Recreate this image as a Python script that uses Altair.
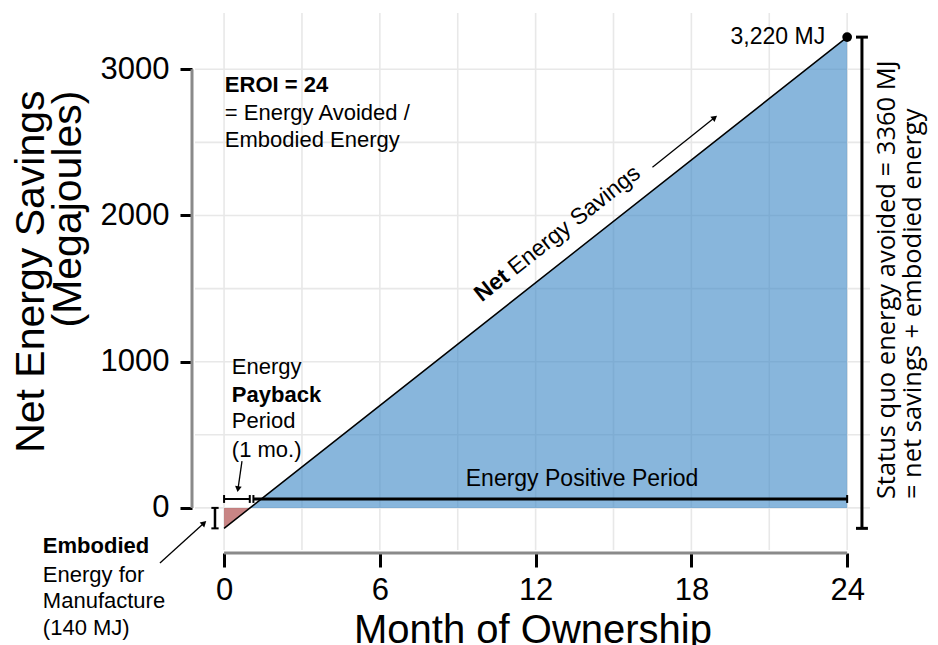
import altair as alt
import pandas as pd

# ---------------- data ----------------
months = [0, 1, 24]                 # month of ownership
net_savings = [-140, 0, 3220]       # net energy savings (MJ)
x_ticks = [0, 6, 12, 18, 24]
y_ticks = [0, 1000, 2000, 3000]
grid_months = [0, 3, 6, 9, 12, 15, 18, 21, 24]
grid_mj = [0, 500, 1000, 1500, 2000, 2500, 3000]
embodied_mj = 140
status_quo_mj = 3360
payback_month = 1
eroi = status_quo_mj // embodied_mj

# ---------------- layout / style ----------------
W, H = 675, 537
FONT = "Liberation Sans"
BLUE = "#3f89c6"
RED = "#a63a3a"
GRID = "#e8e8e8"
SPINE = "#8a8a8a"

xs = alt.Scale(domain=[-1.12, 24.88], nice=False, zero=False)
ys = alt.Scale(domain=[-288, 3385], nice=False, zero=False)

x_axis = alt.Axis(values=x_ticks, format="d", title="Month of Ownership", domain=False, grid=False,
                  tickColor="black", tickWidth=3, tickSize=14, offset=3,
                  labelFont=FONT, labelFontSize=31, labelColor="black", labelPadding=8,
                  titleFont=FONT, titleFontSize=40, titleFontWeight="normal", titleColor="black",
                  titlePadding=5)
y_axis = alt.Axis(values=y_ticks, format="d", title=["Net Energy Savings", "(Megajoules)"],
                  domain=False, grid=False, tickColor="black", tickWidth=3, tickSize=12, offset=3,
                  labelFont=FONT, labelFontSize=31, labelColor="black", labelPadding=11,
                  titleFont=FONT, titleFontSize=41, titleFontWeight="normal", titleColor="black",
                  titleAngle=270, titleAlign="right", titleBaseline="alphabetic",
                  titleLineHeight=37, titleX=-149, titleY=77)


def ex(field="x"):
    return alt.X(f"{field}:Q", scale=xs, axis=x_axis)


def ey(field="y"):
    return alt.Y(f"{field}:Q", scale=ys, axis=y_axis)


layers = []

# grid lines
layers.append(alt.Chart(pd.DataFrame({"x": grid_months})).mark_rule(color=GRID, strokeWidth=1.6)
              .encode(x=ex()))
layers.append(alt.Chart(pd.DataFrame({"y": grid_mj})).mark_rule(color=GRID, strokeWidth=1.6)
              .encode(y=ey()))

# range-frame spines
layers.append(alt.Chart(pd.DataFrame({"x": [x_ticks[0]], "x2": [x_ticks[-1]]}))
              .mark_rule(color=SPINE, strokeWidth=3)
              .encode(x=ex(), x2="x2:Q", y=alt.value(H + 3)))
layers.append(alt.Chart(pd.DataFrame({"y": [y_ticks[0]], "y2": [y_ticks[-1]]}))
              .mark_rule(color=SPINE, strokeWidth=3)
              .encode(y=ey(), y2="y2:Q", x=alt.value(-3)))

# areas
df_red = pd.DataFrame({"x": months[:2], "y": net_savings[:2], "zero": [0, 0]})
df_blue = pd.DataFrame({"x": months[1:], "y": net_savings[1:], "zero": [0, 0]})
layers.append(alt.Chart(df_red).mark_area(color=RED, opacity=0.62)
              .encode(x=ex(), y=ey(), y2="zero:Q"))
layers.append(alt.Chart(df_blue).mark_area(color=BLUE, opacity=0.62)
              .encode(x=ex(), y=ey(), y2="zero:Q"))

# main line
df_line = pd.DataFrame({"x": months, "y": net_savings})
layers.append(alt.Chart(df_line).mark_line(color="black", strokeWidth=1.5)
              .encode(x=ex(), y=ey()))

# end point + label
df_end = pd.DataFrame({"x": [months[-1]], "y": [net_savings[-1]],
                       "t": [f"{net_savings[-1]:,} MJ"]})
layers.append(alt.Chart(df_end).mark_point(filled=True, color="black", size=95, opacity=1)
              .encode(x=ex(), y=ey()))
layers.append(alt.Chart(df_end).mark_text(font=FONT, fontSize=23, align="right", baseline="middle",
                                          dx=-22, color="black")
              .encode(x=ex(), y=ey(), text="t:N"))

# generic segments (data coordinates)
seg_rows = [
    # status-quo bracket on the right
    (24.57, -embodied_mj, 24.57, net_savings[-1], 3),
    (24.34, net_savings[-1], 24.80, net_savings[-1], 3),
    (24.34, -embodied_mj, 24.80, -embodied_mj, 3),
    # payback period bracket
    (0, 61, 0.99, 61, 2),
    (0, 34, 0, 88, 2),
    (0.99, 34, 0.99, 88, 2),
    # energy positive period
    (1.13, 61, 24, 61, 3),
    (1.13, 34, 1.13, 88, 2),
    (24, 34, 24, 88, 2),
    # embodied "I" marker
    (-0.35, 0, -0.35, -embodied_mj, 2.5),
    (-0.49, 0, -0.21, 0, 2),
    (-0.49, -embodied_mj, -0.21, -embodied_mj, 2),
]
for lw in sorted(set(r[4] for r in seg_rows)):
    sub = [r for r in seg_rows if r[4] == lw]
    df = pd.DataFrame({"x": [r[0] for r in sub], "y": [r[1] for r in sub],
                       "x2": [r[2] for r in sub], "y2": [r[3] for r in sub]})
    layers.append(alt.Chart(df).mark_rule(color="black", strokeWidth=lw)
                  .encode(x=ex(), y=ey(), x2="x2:Q", y2="y2:Q"))

# arrows: shaft + head
arrows = pd.DataFrame({
    "x": [16.5, 0.69, -2.47],
    "y": [2330, 320, -377],
    "x2": [18.9, 0.535, -0.77],
    "y2": [2670, 129, -103],
    "ang": [51.7, 188.7, 47.7],
})
layers.append(alt.Chart(arrows).mark_rule(color="black", strokeWidth=1.3)
              .encode(x=ex(), y=ey(), x2="x2:Q", y2="y2:Q"))
layers.append(alt.Chart(arrows).mark_point(shape="triangle-up", filled=True, color="black",
                                           size=45, opacity=1)
              .encode(x=ex("x2"), y=ey("y2"), angle=alt.Angle("ang:Q", scale=None)))

# text annotations
normal_txt = pd.DataFrame([
    ("= Energy Avoided /", 0.03, 2654),
    ("Embodied Energy", 0.03, 2468),
    ("Energy", 0.3, 916),
    ("Period", 0.3, 547),
    (f"({payback_month} mo.)", 0.3, 349),
    ("Energy for", -6.98, -507),
    ("Manufacture", -6.98, -685),
    (f"({embodied_mj} MJ)", -6.98, -869),
], columns=["t", "x", "y"])
bold_txt = pd.DataFrame([
    (f"EROI = {eroi}", 0.03, 2844),
    ("Payback", 0.3, 724),
    ("Embodied", -6.98, -308),
], columns=["t", "x", "y"])
layers.append(alt.Chart(normal_txt).mark_text(font=FONT, fontSize=22, align="left",
                                              baseline="alphabetic", color="black")
              .encode(x=ex(), y=ey(), text="t:N"))
layers.append(alt.Chart(bold_txt).mark_text(font=FONT, fontSize=22, fontWeight="bold", align="left",
                                            baseline="alphabetic", color="black")
              .encode(x=ex(), y=ey(), text="t:N"))
layers.append(alt.Chart(pd.DataFrame({"t": ["Energy Positive Period"], "x": [13.79], "y": [150]}))
              .mark_text(font=FONT, fontSize=23, align="center", baseline="alphabetic", color="black")
              .encode(x=ex(), y=ey(), text="t:N"))

# "Net Energy Savings" along the line
anchor_m = 10.35
df_net = pd.DataFrame({"x": [anchor_m], "y": [-embodied_mj + embodied_mj * anchor_m]})
layers.append(alt.Chart(df_net.assign(t="Net"))
              .mark_text(font=FONT, fontSize=23, fontWeight="bold", align="left", baseline="alphabetic",
                         angle=321.74, dy=-18, color="black")
              .encode(x=ex(), y=ey(), text="t:N"))
layers.append(alt.Chart(df_net.assign(t="Energy Savings"))
              .mark_text(font=FONT, fontSize=23, align="left", baseline="alphabetic",
                         angle=321.74, dy=-18, dx=43, color="black")
              .encode(x=ex(), y=ey(), text="t:N"))

# right-hand rotated note
right_txt = pd.DataFrame([
    (f"Status quo energy avoided = {status_quo_mj} MJ", 25.85, 60),
    ("= net savings + embodied energy", 26.85, 60),
], columns=["t", "x", "y"])
layers.append(alt.Chart(right_txt).mark_text(font="Open Sans", fontSize=25.5, align="left",
                                             baseline="alphabetic", angle=270, color="black")
              .encode(x=ex(), y=ey(), text="t:N"))

chart = alt.layer(*layers).properties(
    width=W, height=H,
    padding={"left": 187, "top": 5, "right": 60, "bottom": 100},
    autosize=alt.AutoSizeParams(type="none"),
    background="white",
).configure_view(stroke=None)

chart.save("out.html", embed_options={"renderer": "svg", "actions": False})
